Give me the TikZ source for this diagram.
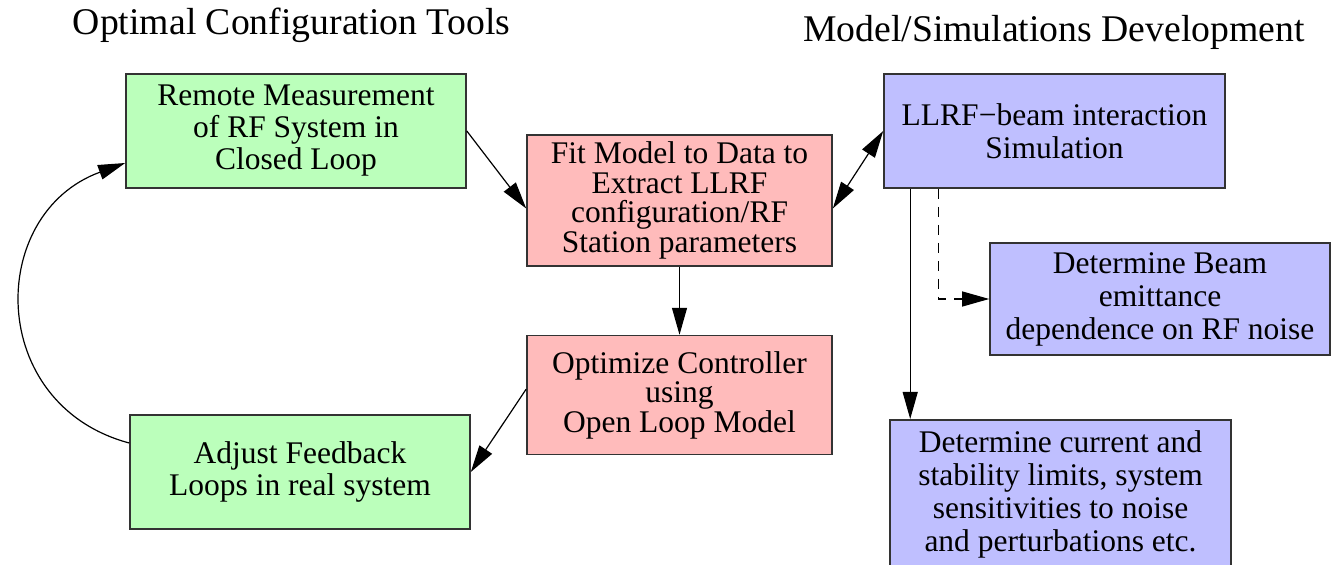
\documentclass[tikz,border=0pt]{standalone}
\usepackage{fontspec}
\setmainfont{Liberation Serif}
\usetikzlibrary{positioning,arrows.meta}

\definecolor{boxgreen}{RGB}{187,255,187}
\definecolor{boxred}{RGB}{255,187,187}
\definecolor{boxblue}{RGB}{191,191,255}

\begin{document}
\begin{tikzpicture}[
  x=0.5pt, y=0.5pt,
  >={Triangle[length=13.5pt,width=7.5pt]},
  greenblock/.style={
    rectangle,
    draw=black!80,
    line width=0.8pt,
    fill=boxgreen,
    inner sep=0pt,
    align=center,
    font=\fontsize{15.75}{16}\selectfont,
    minimum width=170pt,
    minimum height=57pt
  },
  redblock/.style={
    rectangle,
    draw=black!80,
    line width=0.8pt,
    fill=boxred,
    inner sep=0pt,
    align=center,
    font=\fontsize{15.75}{14.8}\selectfont,
    minimum width=152.5pt,
    minimum height=59.5pt
  },
  blueblock/.style={
    rectangle,
    draw=black!80,
    line width=0.8pt,
    fill=boxblue,
    inner sep=0pt,
    align=center,
    font=\fontsize{15.75}{16.5}\selectfont,
    minimum width=170.5pt,
    minimum height=57pt
  },
  heading/.style={
    font=\fontsize{18.85}{22}\selectfont,
    inner sep=0pt,
    anchor=base
  },
  link/.style={line width=0.6pt},
  dashlink/.style={line width=0.6pt, dash pattern=on 5pt off 4pt}]
  \useasboundingbox (0,0) rectangle (1331,-565);
  % titles
  \node[heading] (lefttitle) at (291.5,-35) {Optimal Configuration Tools};
  \node[heading] (righttitle) at (1054,-42) {Model/Simulations Development};
  % configuration loop
  \node[greenblock] (remote) at (296,-131) {Remote Measurement\\of RF System in\\Closed Loop};
  \node[redblock, minimum height=65.5pt] (fit) at (679.5,-200.5)
    {Fit Model to Data to\\Extract LLRF\\configuration/RF\\Station parameters};
  \node[redblock, below=34pt of fit] (optim) {Optimize Controller\\using\\Open Loop Model};
  \node[greenblock] (adjust) at (300,-472) {Adjust Feedback\\Loops in real system};
  % simulations
  \node[blueblock] (llrf) at (1054.5,-131) {LLRF−beam interaction\\Simulation};
  \node[blueblock, minimum width=170pt, minimum height=56pt] (beam) at (1160,-299)
    {Determine Beam\\emittance\\dependence on RF noise};
  \node[blueblock, minimum height=75pt, anchor=north] (current) at (1060.5,-419)
    {Determine current and\\stability limits, system\\sensitivities to noise\\and perturbations etc.};
  % connectors
  \draw[link,->] (remote.east) -- ([yshift=-4pt]fit.west);
  \draw[link,<->] ([yshift=-4pt]fit.east) -- (llrf.west);
  \draw[link,->] (fit.south) -- (optim.north);
  \draw[link,->] ([yshift=3pt]optim.west) -- (adjust.east);
  \draw[link,->] ([yshift=14.5pt]adjust.west) to[out=165, in=-160, looseness=1.35] ([yshift=-16pt]remote.west);
  \draw[link,->] ([xshift=13.5pt]llrf.south west) -- ([xshift=13.5pt]llrf.south west |- current.north);
  \draw[dashlink,->] ([xshift=27.5pt]llrf.south west) |- (beam.west);
\end{tikzpicture}
\end{document}
